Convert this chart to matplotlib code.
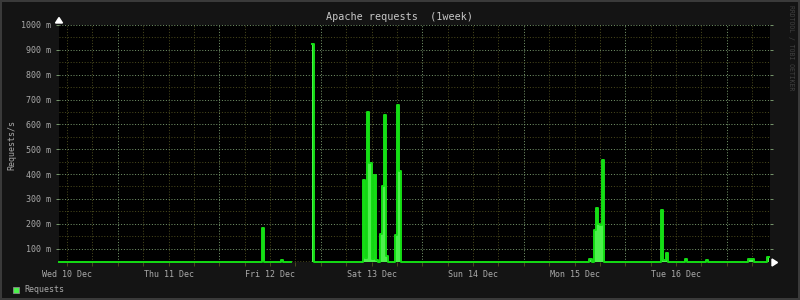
import numpy as np
import matplotlib
matplotlib.use("Agg")
import matplotlib.pyplot as plt
from matplotlib.patches import Rectangle, Polygon

# ---------------- data ----------------
title = "Apache requests  (1week)"
y_label = "Requests/s"
series_name = "Requests"
day_labels = ["Wed 10 Dec", "Thu 11 Dec", "Fri 12 Dec", "Sat 13 Dec",
              "Sun 14 Dec", "Mon 15 Dec", "Tue 16 Dec"]
day_hours = [0, 24, 48, 72, 96, 120, 144]          # hours after Wed 10 Dec 00:00
y_ticks = [0.1, 0.2, 0.3, 0.4, 0.5, 0.6, 0.7, 0.8, 0.9, 1.0]
y_tick_labels = ["100 m", "200 m", "300 m", "400 m", "500 m",
                 "600 m", "700 m", "800 m", "900 m", "1000 m"]

baseline_value = 0.048
sample_start, sample_end, sample_step = -2.0, 166.0, 0.5   # 30-min samples
gap_start, gap_end = 53.0, 58.0                            # unknown data
spike_hours = [46.0, 50.5, 58.0, 70.0, 70.5, 71.0, 71.5, 72.0, 72.5, 73.0,
               74.0, 74.5, 75.0, 75.5, 77.5, 78.0, 78.5,
               123.5, 124.5, 125.0, 125.5, 126.0, 126.5,
               140.5, 141.0, 141.5, 146.0, 151.0, 161.0, 161.5, 162.0, 165.5]
spike_values = [0.183, 0.055, 0.924, 0.378, 0.063, 0.650, 0.444, 0.060, 0.398, 0.055,
                0.160, 0.353, 0.638, 0.072, 0.154, 0.679, 0.411,
                0.060, 0.174, 0.264, 0.200, 0.195, 0.458,
                0.257, 0.056, 0.084, 0.060, 0.055, 0.058, 0.058, 0.058, 0.068]

# ---------------- build series ----------------
t = np.arange(sample_start, sample_end, sample_step)
v = np.full(t.shape, baseline_value)
v[(t >= gap_start) & (t < gap_end)] = np.nan
for h, val in zip(spike_hours, spike_values):
    v[np.argmin(np.abs(t - h))] = val
t_ext = np.append(t, sample_end)
v_ext = np.append(v, v[-1])

# ---------------- style ----------------
W, H = 800, 300
canvas = "#141414"
fill_col = "#4cf04c"
line_col = "#14dd14"
minor_col = "#48481c"
major_col = "#74946a"
text_col = "#aaaaaa"
mono = "DejaVu Sans Mono"

fig = plt.figure(figsize=(W / 100, H / 100), dpi=100, facecolor=canvas)

def fx(px):
    return px / W

def fy(py):
    return 1 - py / H

left, right, top, bottom = 59, 770, 25, 262
ax = fig.add_axes([fx(left), fy(bottom), fx(right - left), (bottom - top) / H])
ax.set_facecolor("black")
for s in ax.spines.values():
    s.set_visible(False)

ymin, ymax = 0.046, 1.0
xmin, xmax = -1.9, 166.2
ax.set_xlim(xmin, xmax)
ax.set_ylim(ymin, ymax)

# grid
dash = (0, (1, 1.8))
for k in range(-1, 29):
    h = 6 * k
    if xmin <= h <= xmax:
        is_major = (h % 24) == 12
        ax.axvline(h, color=major_col if is_major else minor_col, lw=0.72,
                   ls=dash, zorder=1)
for yv in np.arange(0.05, 1.0, 0.1):
    ax.axhline(yv, color=minor_col, lw=0.72, ls=dash, zorder=1)
for yv in y_ticks:
    ax.axhline(yv, color=major_col, lw=0.72, ls=dash, zorder=1)

# data
ax.fill_between(t_ext, ymin, v_ext, step="post", color=fill_col, lw=0, zorder=2)
ax.plot(t_ext, v_ext, drawstyle="steps-post", color=line_col, lw=1.4, zorder=3,
        clip_on=False)

# ticks
ax.set_xticks(day_hours, day_labels)
ax.set_xticks([h for h in range(0, 168, 6)], minor=True)
ax.tick_params(axis="x", which="both", length=3, width=0.72, color=minor_col,
               labelsize=6.0, labelcolor=text_col, pad=3)
ax.set_yticks(y_ticks, y_tick_labels)
ax.tick_params(axis="y", which="both", length=2.5, width=0.72, color=major_col,
               labelsize=6.0, labelcolor=text_col, pad=3, right=True)
for lab in ax.get_xticklabels() + ax.get_yticklabels():
    lab.set_fontfamily(mono)

# texts
fig.text(0.5, fy(16.5), title, ha="center", va="center", color="#c8c8c8",
         fontsize=7.3, family=mono)
fig.text(fx(12), fy(145), y_label, ha="center", va="center", rotation=90,
         color=text_col, fontsize=6.0, family=mono)
fig.text(fx(791), fy(48), "RRDTOOL / TOBI OETIKER", ha="center", va="center",
         rotation=270, color="#404040", fontsize=4.7, family=mono)

# legend
fig.patches.append(Rectangle((fx(13), fy(292.7)), 6 / W, 6 / H, transform=fig.transFigure,
                             facecolor=fill_col, edgecolor="#8a8a8a", lw=0.6))
fig.text(fx(24), fy(289.5), series_name, ha="left", va="center", color=text_col,
         fontsize=6.0, family=mono)

# axis arrows
fig.patches.append(Polygon([(fx(55.5), fy(23)), (fx(62.5), fy(23)), (fx(59), fy(17.5))],
                           closed=True, transform=fig.transFigure, color="white"))
fig.patches.append(Polygon([(fx(772), fy(259)), (fx(772), fy(266)), (fx(777.5), fy(262.5))],
                           closed=True, transform=fig.transFigure, color="white"))

# outer frame
fig.patches.append(Rectangle((0, 0), 1, 1, transform=fig.transFigure, fill=False,
                             edgecolor="#3a3a3a", lw=2.9))

fig.savefig("out.png", dpi=100, facecolor=canvas)
